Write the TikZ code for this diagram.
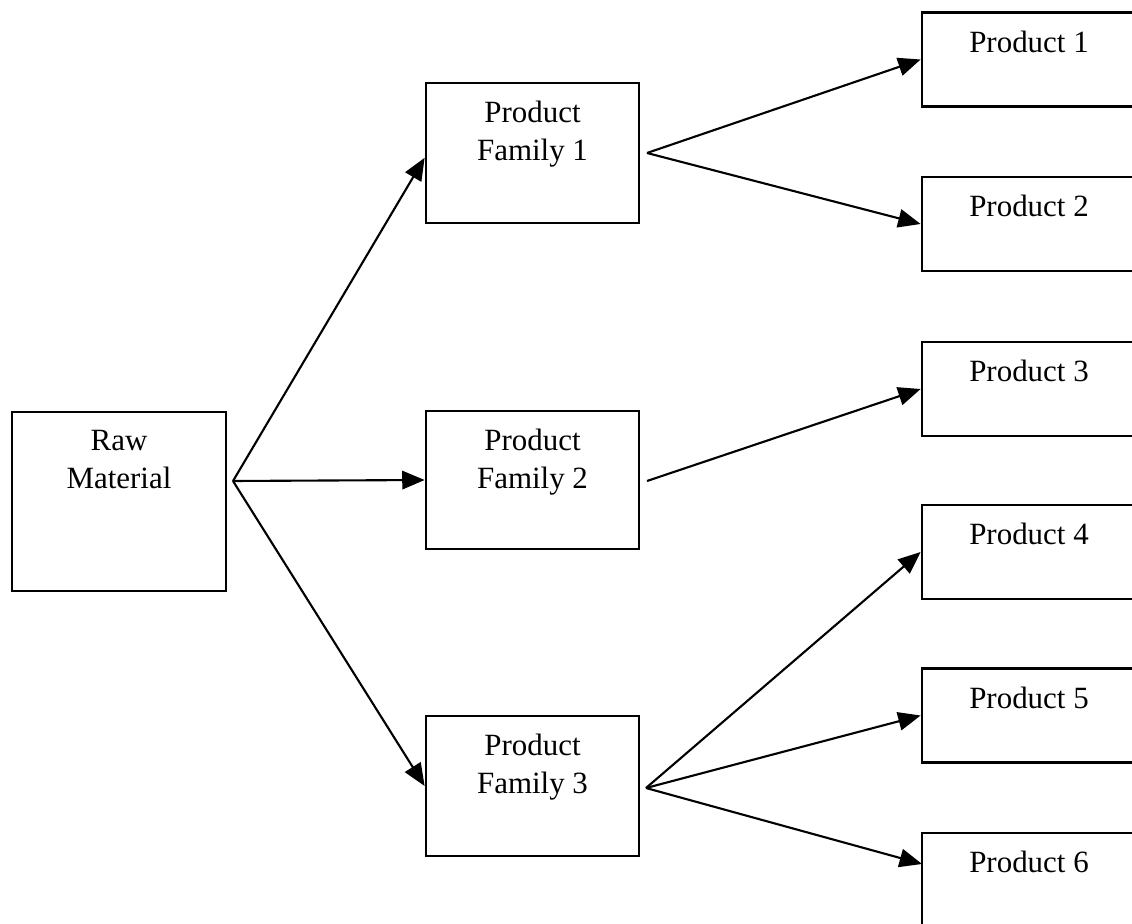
\documentclass[tikz,border=0pt]{standalone}
\usepackage{fontspec}
\setmainfont{Liberation Serif}
\usetikzlibrary{arrows.meta}

\begin{document}
\begin{tikzpicture}[x=0.025cm, y=-0.025cm,
				box/.style={draw, rectangle, line width=1.9pt, minimum width=5.35cm, inner sep=0pt},
				txt/.style={anchor=north, align=center, inner sep=0pt, yshift=-0.48cm, font=\fontsize{22}{27}\selectfont},
				flow/.style={->, >={Triangle[length=0.56cm, width=0.46cm]}, line width=1.5pt}]
				\clip (0, 0) rectangle (1132, 924);
				% raw material and families
				\node[box, minimum height=4.475cm] (RM)at(119, 501.5) {};
				\node[box, minimum width=5.325cm, minimum height=3.5cm] (PF1)at(532.5, 153) {};
				\node[box, minimum width=5.325cm, minimum height=3.45cm] (PF2)at(532.5, 480) {};
				\node[box, minimum width=5.325cm, minimum height=3.5cm] (PF3)at(532.5, 786) {};
				\node[txt] at (RM.north) {Raw\\Material};
				\node[txt] at (PF1.north) {Product\\Family 1};
				\node[txt] at (PF2.north) {Product\\Family 2};
				\node[txt] at (PF3.north) {Product\\Family 3};
				% products
				\node[box, minimum height=2.35cm] (P1)at(1029, 59.5) {};
				\node[box, minimum height=2.35cm] (P2)at(1029, 224) {};
				\node[box, minimum height=2.35cm] (P3)at(1029, 389) {};
				\node[box, minimum height=2.35cm] (P4)at(1029, 552) {};
				\node[box, minimum height=2.35cm] (P5)at(1029, 715.5) {};
				\node[box, minimum height=2.35cm] (P6)at(1029, 880) {};
				\node[txt] at (P1.north) {Product 1};
				\node[txt] at (P2.north) {Product 2};
				\node[txt] at (P3.north) {Product 3};
				\node[txt] at (P4.north) {Product 4};
				\node[txt] at (P5.north) {Product 5};
				\node[txt] at (P6.north) {Product 6};
				% split points
				\coordinate (sRM) at (233, 481);
				\coordinate (sF1) at (647, 153);
				\coordinate (sF2) at (647, 481);
				\coordinate (sF3) at (646, 788);
				\coordinate (eP6) at (922, 864);
				\draw[flow] (sRM) -- ([yshift=-0.12cm]PF1.west);
				\draw[flow] (sRM) -- (PF2.west);
				\draw[flow] (sRM) -- (PF3.west);
				\draw[flow] (sF1) -- (P1.west);
				\draw[flow] (sF1) -- (P2.west);
				\draw[flow] (sF2) -- (P3.west);
				\draw[flow] (sF3) -- (P4.west);
				\draw[flow] (sF3) -- (P5.west);
				\draw[flow] (sF3) -- (eP6);
			\end{tikzpicture}
\end{document}
